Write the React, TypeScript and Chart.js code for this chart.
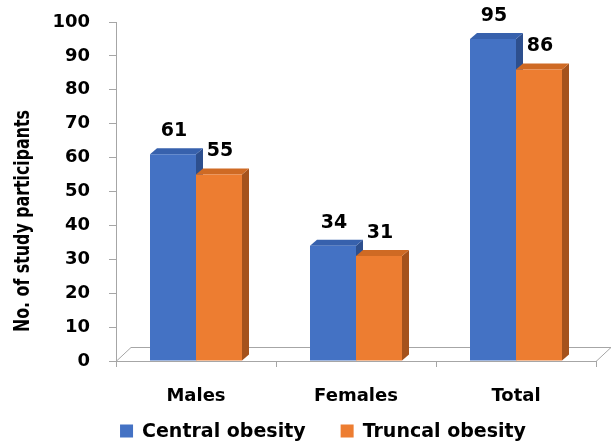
import React, { useEffect, useRef } from 'react';
import { Chart, registerables } from 'chart.js';

Chart.register(...registerables);

const categories = ['Males', 'Females', 'Total'];
const centralObesity = [61, 34, 95];
const truncalObesity = [55, 31, 86];
const seriesLabels = ['Central obesity', 'Truncal obesity'];
const yTitle = 'No. of study participants';
const yMin = 0;
const yMax = 100;
const yStep = 10;

const FRONT_COLORS = ['#4472C4', '#ED7D31'];
const TOP_COLORS = ['#3761ad', '#cf6a24'];
const SIDE_COLORS = ['#2d4f8e', '#a5521c'];
const AXIS_GRAY = '#a6a6a6';
const FONT = 'DejaVu Sans';

const DX = 7;
const DY = -6;
const FX = 15;
const FY = -14;

const depthPlugin = {
  id: 'depth3d',
  beforeDatasetsDraw(chart: any) {
    const ctx = chart.ctx;
    const { left, right, bottom } = chart.chartArea;
    ctx.save();
    ctx.strokeStyle = AXIS_GRAY;
    ctx.lineWidth = 1;
    ctx.beginPath();
    ctx.moveTo(left, bottom + 0.5);
    ctx.lineTo(left + FX, bottom + FY + 0.5);
    ctx.lineTo(right + FX, bottom + FY + 0.5);
    ctx.lineTo(right, bottom + 0.5);
    ctx.stroke();

    const n = chart.data.labels.length;
    for (let i = 0; i < n; i++) {
      chart.data.datasets.forEach((_: any, d: number) => {
        const meta = chart.getDatasetMeta(d);
        const el = meta.data[i];
        if (!el) return;
        const { x, y, base, width } = el.getProps(['x', 'y', 'base', 'width'], true);
        const l = x - width / 2;
        const r = x + width / 2;
        ctx.fillStyle = SIDE_COLORS[d];
        ctx.beginPath();
        ctx.moveTo(r, y);
        ctx.lineTo(r + DX, y + DY);
        ctx.lineTo(r + DX, base + DY);
        ctx.lineTo(r, base);
        ctx.closePath();
        ctx.fill();
        ctx.fillStyle = TOP_COLORS[d];
        ctx.beginPath();
        ctx.moveTo(l, y);
        ctx.lineTo(l + DX, y + DY);
        ctx.lineTo(r + DX, y + DY);
        ctx.lineTo(r, y);
        ctx.closePath();
        ctx.fill();
      });
    }
    ctx.restore();
  },
  afterDatasetsDraw(chart: any) {
    const ctx = chart.ctx;
    ctx.save();
    ctx.fillStyle = '#000';
    ctx.font = `bold 19px "${FONT}"`;
    ctx.textAlign = 'center';
    ctx.textBaseline = 'middle';
    chart.data.datasets.forEach((ds: any, d: number) => {
      const meta = chart.getDatasetMeta(d);
      meta.data.forEach((el: any, i: number) => {
        const { x, y } = el.getProps(['x', 'y'], true);
        ctx.fillText(String(ds.data[i]), x + 1, y - 23);
      });
    });
    ctx.restore();
  },
  afterDraw(chart: any) {
    const ctx = chart.ctx;
    ctx.save();
    // y-axis title
    ctx.fillStyle = '#000';
    ctx.font = `bold 21px "${FONT}"`;
    ctx.textAlign = 'center';
    ctx.textBaseline = 'middle';
    ctx.translate(24, 221);
    ctx.rotate(-Math.PI / 2);
    ctx.fillText(yTitle, 0, 0, 222);
    ctx.restore();

    // legend
    ctx.save();
    ctx.font = `bold 19px "${FONT}"`;
    ctx.textBaseline = 'middle';
    ctx.textAlign = 'left';
    const box = 13;
    const gap = 9;
    const spacing = 35;
    const widths = chart.data.datasets.map((ds: any) => box + gap + ctx.measureText(ds.label).width);
    const total = widths.reduce((a: number, b: number) => a + b, 0) + spacing * (widths.length - 1);
    let x = 323 - total / 2;
    const cy = 431;
    chart.data.datasets.forEach((ds: any, d: number) => {
      ctx.fillStyle = FRONT_COLORS[d];
      ctx.fillRect(x, cy - box / 2, box, box);
      ctx.fillStyle = '#000';
      ctx.fillText(ds.label, x + box + gap, cy + 1);
      x += widths[d] + spacing;
    });
    ctx.restore();
  },
};

export default function App() {
  const ref = useRef<HTMLCanvasElement | null>(null);

  useEffect(() => {
    if (!ref.current) return;
    const chart = new Chart(ref.current, {
      type: 'bar',
      data: {
        labels: categories,
        datasets: [
          {
            label: seriesLabels[0],
            data: centralObesity,
            backgroundColor: FRONT_COLORS[0],
            borderWidth: 0,
            barPercentage: 1,
            categoryPercentage: 0.575,
          },
          {
            label: seriesLabels[1],
            data: truncalObesity,
            backgroundColor: FRONT_COLORS[1],
            borderWidth: 0,
            barPercentage: 1,
            categoryPercentage: 0.575,
          },
        ],
      },
      options: {
        responsive: false,
        animation: false,
        devicePixelRatio: 1,
        layout: { padding: { top: 22, right: 15, left: 0, bottom: 30 } },
        plugins: {
          legend: { display: false },
          tooltip: { enabled: false },
          title: { display: false },
        },
        scales: {
          x: {
            grid: {
              display: true,
              drawOnChartArea: false,
              drawTicks: true,
              tickLength: 6,
              offset: true,
              color: AXIS_GRAY,
            },
            border: { display: true, color: AXIS_GRAY },
            ticks: {
              color: '#000',
              font: { family: FONT, weight: 'bold', size: 18 },
              padding: 19,
            },
            afterFit(s: any) {
              s.height = 53;
              s.paddingLeft = 0;
              s.paddingRight = 0;
            },
          },
          y: {
            min: yMin,
            max: yMax,
            ticks: {
              stepSize: yStep,
              color: '#000',
              font: { family: FONT, weight: 'bold', size: 18 },
              padding: 19,
            },
            grid: {
              drawOnChartArea: false,
              drawTicks: true,
              tickLength: 7,
              color: AXIS_GRAY,
            },
            border: { display: true, color: AXIS_GRAY },
            afterFit(s: any) {
              s.width = 116;
              s.paddingTop = 0;
              s.paddingBottom = 0;
            },
          },
        },
      },
      plugins: [depthPlugin],
    } as any);
    return () => chart.destroy();
  }, []);

  return (
    <div style={{ position: 'absolute', left: 0, top: 0, width: 611, height: 444, background: '#fff' }}>
      <canvas ref={ref} width={611} height={444} />
    </div>
  );
}
